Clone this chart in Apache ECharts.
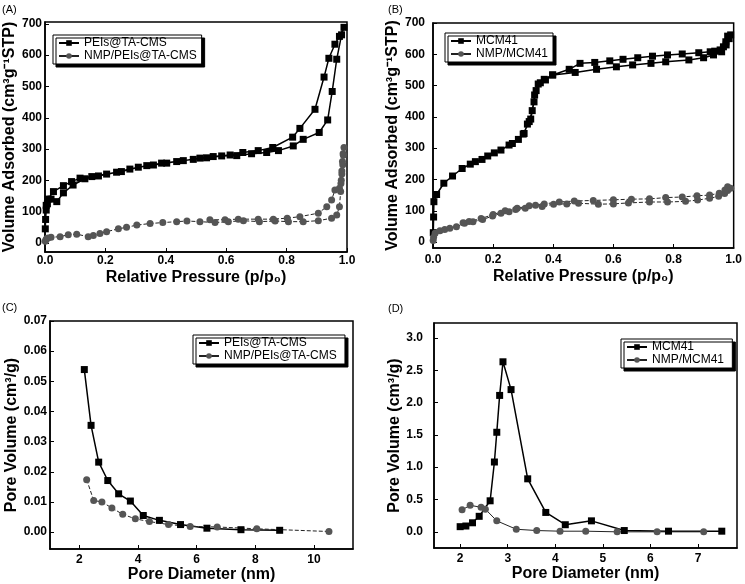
<!DOCTYPE html>
<html lang="en">
<head>
    <meta charset="UTF-8">
    <title>Isotherms and pore size distributions</title>
    <script src="https://cdn.jsdelivr.net/npm/echarts@6.0.0/dist/echarts.min.js"></script>
    <style>
        html, body, #chart {
            width: 745px;
            height: 584px;
            padding: 0;
            margin: 0;
            background: #fff;
        }
    </style>
</head>
<body>
<div id="chart"></div>
<script>
    // (A) PEIs@TA-CMS isotherm, adsorption then desorption branch
    var aPeisAdsP = [0.001, 0.002, 0.004, 0.008, 0.02, 0.039, 0.061, 0.093, 0.132, 0.177, 0.237, 0.281, 0.337, 0.386, 0.436, 0.491, 0.535, 0.585, 0.635, 0.684, 0.734, 0.773, 0.822, 0.855, 0.908, 0.936, 0.951, 0.966, 0.982, 0.99];
    var aPeisAdsV = [45, 75, 105, 125, 140, 132, 160, 185, 205, 214, 226, 236, 247, 255, 260, 267, 272, 278, 279, 285, 289, 295, 310, 331, 353, 393, 484, 587, 665, 689];
    var aPeisDesP = [0.975, 0.96, 0.94, 0.924, 0.894, 0.844, 0.82, 0.754, 0.706, 0.655, 0.613, 0.557, 0.513, 0.458, 0.403, 0.359, 0.309, 0.253, 0.204, 0.155, 0.116, 0.088, 0.061, 0.028, 0.01, 0.004];
    var aPeisDesV = [660, 635, 590, 530, 427, 366, 338, 305, 295, 289, 281, 276, 271, 263, 255, 249, 242, 228, 220, 212, 207, 196, 183, 164, 140, 120];
    // (A) NMP/PEIs@TA-CMS isotherm
    var aNmpAdsP = [0.001, 0.003, 0.006, 0.01, 0.02, 0.05, 0.077, 0.105, 0.143, 0.16, 0.182, 0.204, 0.243, 0.27, 0.304, 0.348, 0.39, 0.436, 0.47, 0.513, 0.563, 0.607, 0.657, 0.71, 0.762, 0.806, 0.855, 0.905, 0.949, 0.966, 0.975, 0.979, 0.981, 0.983, 0.985, 0.987, 0.99];
    var aNmpAdsV = [5, 10, 14, 16, 18, 20, 26, 28, 20, 24, 30, 36, 45, 50, 57, 62, 65, 68, 70, 68, 65, 68, 71, 68, 70, 68, 68, 71, 79, 89, 116, 164, 200, 230, 260, 285, 305];
    var aNmpDesP = [0.988, 0.986, 0.983, 0.98, 0.975, 0.96, 0.949, 0.933, 0.905, 0.844, 0.802, 0.756, 0.706, 0.64, 0.596, 0.546];
    var aNmpDesV = [280, 250, 220, 190, 175, 169, 137, 116, 95, 84, 79, 76, 76, 76, 74, 74];

    // (B) MCM41 isotherm
    var bMcmAdsP = [0.001, 0.002, 0.003, 0.012, 0.036, 0.065, 0.097, 0.124, 0.141, 0.163, 0.182, 0.204, 0.226, 0.253, 0.264, 0.284, 0.303, 0.314, 0.325, 0.336, 0.343, 0.357, 0.374, 0.398, 0.473, 0.544, 0.61, 0.664, 0.725, 0.774, 0.851, 0.9, 0.933, 0.96, 0.975, 0.985];
    var bMcmAdsV = [30, 80, 129, 152, 188, 211, 235, 249, 257, 264, 275, 285, 294, 310, 315, 328, 347, 377, 393, 448, 484, 509, 518, 534, 542, 552, 560, 566, 571, 576, 582, 589, 598, 608, 630, 650];
    var bMcmDesP = [0.99, 0.98, 0.974, 0.966, 0.955, 0.937, 0.922, 0.884, 0.829, 0.78, 0.73, 0.681, 0.632, 0.588, 0.538, 0.489, 0.453, 0.398, 0.37, 0.35, 0.338, 0.33, 0.32, 0.3];
    var bMcmDesV = [662, 658, 640, 624, 614, 610, 608, 605, 601, 598, 594, 589, 584, 579, 574, 571, 552, 534, 520, 505, 470, 420, 385, 345];
    // (B) NMP/MCM41 isotherm
    var bNmpAdsP = [0.0005, 0.002, 0.007, 0.023, 0.039, 0.056, 0.078, 0.105, 0.133, 0.165, 0.198, 0.226, 0.253, 0.275, 0.307, 0.341, 0.363, 0.401, 0.445, 0.484, 0.55, 0.6, 0.65, 0.72, 0.78, 0.84, 0.88, 0.92, 0.95, 0.97, 0.98, 0.99];
    var bNmpAdsV = [5, 15, 28, 36, 40, 44, 49, 60, 65, 72, 83, 92, 97, 104, 108, 118, 114, 121, 122, 124, 121, 122, 125, 128, 128, 130, 134, 140, 146, 155, 165, 172];
    var bNmpDesP = [0.98, 0.971, 0.952, 0.92, 0.878, 0.829, 0.774, 0.72, 0.66, 0.6, 0.533, 0.47, 0.42, 0.37, 0.32, 0.28, 0.24, 0.2, 0.16, 0.12, 0.1];
    var bNmpDesV = [177, 166, 156, 150, 148, 144, 142, 138, 137, 135, 133, 131, 128, 122, 116, 108, 100, 88, 75, 66, 62];

    // (C) pore size distribution
    var cPeisD = [2.17, 2.40, 2.66, 2.97, 3.34, 3.74, 4.18, 4.73, 5.45, 6.35, 7.51, 8.83];
    var cPeisV = [0.0539, 0.0354, 0.0232, 0.0171, 0.0127, 0.0103, 0.0055, 0.0039, 0.0025, 0.0013, 0.0008, 0.0006];
    var cNmpD = [2.25, 2.49, 2.77, 3.11, 3.48, 3.91, 4.39, 5.04, 5.78, 6.7, 8.05, 10.51];
    var cNmpV = [0.0174, 0.0105, 0.0100, 0.0080, 0.0059, 0.0044, 0.0035, 0.0025, 0.0019, 0.0017, 0.0011, 0.0002];

    // (D) pore size distribution
    var dMcmD = [2.0, 2.12, 2.26, 2.4, 2.63, 2.72, 2.77, 2.83, 2.9, 3.07, 3.42, 3.8, 4.21, 4.76, 5.45, 6.38, 7.5];
    var dMcmV = [0.08, 0.09, 0.14, 0.24, 0.48, 1.08, 1.54, 2.11, 2.63, 2.2, 0.82, 0.3, 0.11, 0.17, 0.02, 0.01, 0.01];
    var dNmpD = [2.04, 2.21, 2.44, 2.53, 2.77, 3.18, 3.61, 4.1, 4.64, 5.3, 6.14, 7.12];
    var dNmpV = [0.34, 0.41, 0.38, 0.35, 0.17, 0.04, 0.02, 0.01, 0.01, 0.0, 0.0, 0.0];

    var pressureTicks = [0, 0.2, 0.4, 0.6, 0.8, 1.0];
    var volumeTicks = [0, 100, 200, 300, 400, 500, 600, 700];
    var cDiameterTicks = [2, 4, 6, 8, 10];
    var cVolumeTicks = [0, 0.01, 0.02, 0.03, 0.04, 0.05, 0.06, 0.07];
    var dDiameterTicks = [2, 3, 4, 5, 6, 7];
    var dVolumeTicks = [0, 0.5, 1.0, 1.5, 2.0, 2.5, 3.0];

    function zip(xs, ys) {
        return xs.map(function (x, i) { return [x, ys[i]]; });
    }

    var FONT = "'Liberation Sans', Arial, sans-serif";

    function xAxis(idx, min, max, ticks, digits, name, gap, margin) {
        return {
            type: "value", gridIndex: idx, min: min, max: max,
            name: name, nameLocation: "middle", nameGap: gap,
            nameTextStyle: {fontFamily: FONT, fontWeight: "bold", fontSize: 16, color: "#000"},
            axisLine: {onZero: false, lineStyle: {color: "#000", width: 1.5}},
            axisTick: {inside: true, length: 4, customValues: ticks, lineStyle: {color: "#000"}},
            axisLabel: {customValues: ticks, margin: margin, fontFamily: FONT, fontWeight: "bold", fontSize: 12, color: "#000",
                formatter: function (v) { return v.toFixed(digits); }},
            splitLine: {show: false}
        };
    }

    function yAxis(idx, min, max, ticks, digits, name, gap, margin) {
        return {
            type: "value", gridIndex: idx, min: min, max: max,
            name: name, nameLocation: "middle", nameGap: gap,
            nameTextStyle: {fontFamily: FONT, fontWeight: "bold", fontSize: 16, color: "#000"},
            axisLine: {onZero: false, lineStyle: {color: "#000", width: 1.5}},
            axisTick: {inside: true, length: 4, customValues: ticks, lineStyle: {color: "#000"}},
            axisLabel: {customValues: ticks, margin: margin, fontFamily: FONT, fontWeight: "bold", fontSize: 12, color: "#000",
                formatter: function (v) { return v.toFixed(digits); }},
            splitLine: {show: false}
        };
    }

    function squares(name, idx, data) {
        return {
            type: "line", name: name, xAxisIndex: idx, yAxisIndex: idx, data: data,
            symbol: "rect", symbolSize: 7, showSymbol: true,
            itemStyle: {color: "#000"},
            lineStyle: {color: "#000", width: 1.5}
        };
    }

    function circles(name, idx, data, dashed) {
        return {
            type: "line", name: name, xAxisIndex: idx, yAxisIndex: idx, data: data,
            symbol: "circle", symbolSize: 7, showSymbol: true,
            itemStyle: {color: "#555"},
            lineStyle: {color: "#222", width: 1, type: dashed ? "dashed" : "solid"}
        };
    }

    function legend(names, left, top) {
        return {
            data: names, left: left, top: top, orient: "vertical",
            itemGap: 1, itemWidth: 20, itemHeight: 7, padding: [2, 5, 2, 5],
            backgroundColor: "#fff", borderColor: "#000", borderWidth: 1,
            shadowColor: "#000", shadowBlur: 0, shadowOffsetX: 3, shadowOffsetY: 3,
            textStyle: {fontFamily: FONT, fontSize: 12, color: "#000"}
        };
    }

    function panelTitle(text, left, top) {
        return {text: text, left: left, top: top, padding: 0,
            textStyle: {fontFamily: FONT, fontSize: 11, fontWeight: "normal", color: "#000"}};
    }

    var frame = {show: true, borderColor: "#000", borderWidth: 1.5, backgroundColor: "#fff"};

    var chart = echarts.init(document.getElementById("chart"));
    chart.setOption({
        animation: false,
        backgroundColor: "#fff",
        title: [
            panelTitle("(A)", 2, 4),
            panelTitle("(B)", 388, 4),
            panelTitle("(C)", 2, 302),
            panelTitle("(D)", 388, 303)
        ],
        legend: [
            legend(["PEIs@TA-CMS", "NMP/PEIs@TA-CMS"], 53, 35),
            legend(["MCM41", "NMP/MCM41"], 445, 33),
            legend(["PEIs@TA-CMS ", "NMP/PEIs@TA-CMS "], 193, 335),
            legend(["MCM41 ", "NMP/MCM41 "], 621, 339)
        ],
        grid: [
            Object.assign({left: 45, top: 22, width: 302, height: 230}, frame),
            Object.assign({left: 433, top: 23, width: 304, height: 225}, frame),
            Object.assign({left: 50, top: 321, width: 303, height: 228}, frame),
            Object.assign({left: 434, top: 323, width: 303, height: 225}, frame)
        ],
        xAxis: [
            xAxis(0, 0, 1.0, pressureTicks, 1, "Relative Pressure (p/p\u2080)", 18, 3),
            xAxis(1, 0, 1.0, pressureTicks, 1, "Relative Pressure (p/p\u2080)", 21, 6),
            xAxis(2, 1, 11.33, cDiameterTicks, 0, "Pore Diameter (nm)", 16, 5),
            xAxis(3, 1.45, 7.82, dDiameterTicks, 0, "Pore Diameter (nm)", 17, 5)
        ],
        yAxis: [
            yAxis(0, -29, 706, volumeTicks, 0, "Volume Adsorbed (cm\u00b3g\u207b\u00b9STP)", 22, 3),
            yAxis(1, -19, 700, volumeTicks, 0, "Volume Adsorbed (cm\u00b3g\u207b\u00b9STP)", 20, 8),
            yAxis(2, -0.0056, 0.07, cVolumeTicks, 2, "Pore Volume (cm\u00b3/g)", 24, 3),
            yAxis(3, -0.25, 3.23, dVolumeTicks, 1, "Pore Volume (cm\u00b3/g)", 23, 11)
        ],
        series: [
            squares("PEIs@TA-CMS", 0, zip(aPeisAdsP, aPeisAdsV).concat(zip(aPeisDesP, aPeisDesV))),
            circles("NMP/PEIs@TA-CMS", 0, zip(aNmpAdsP, aNmpAdsV).concat(zip(aNmpDesP, aNmpDesV)), true),
            squares("MCM41", 1, zip(bMcmAdsP, bMcmAdsV).concat(zip(bMcmDesP, bMcmDesV))),
            circles("NMP/MCM41", 1, zip(bNmpAdsP, bNmpAdsV).concat(zip(bNmpDesP, bNmpDesV)), true),
            squares("PEIs@TA-CMS ", 2, zip(cPeisD, cPeisV)),
            circles("NMP/PEIs@TA-CMS ", 2, zip(cNmpD, cNmpV), true),
            squares("MCM41 ", 3, zip(dMcmD, dMcmV)),
            circles("NMP/MCM41 ", 3, zip(dNmpD, dNmpV), false)
        ]
    });
</script>
</body>
</html>
